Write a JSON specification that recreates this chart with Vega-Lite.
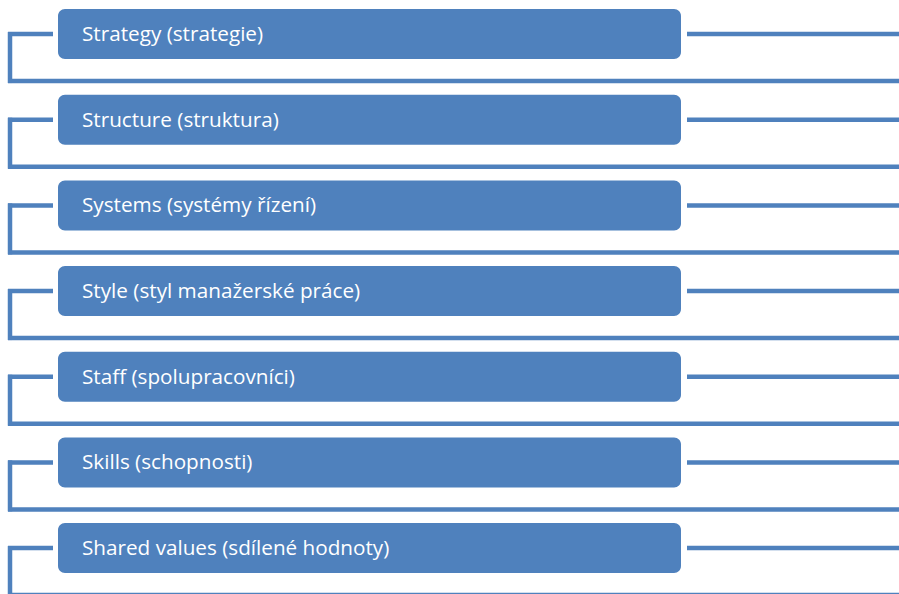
{
  "$schema": "https://vega.github.io/schema/vega-lite/v6.json",
  "width": 899,
  "height": 594,
  "autosize": {"type": "none"},
  "padding": 0,
  "background": "white",
  "config": {"view": {"stroke": null}},
  "data": {
    "values": [
      {"label": "Strategy (strategie)"},
      {"label": "Structure (struktura)"},
      {"label": "Systems (systémy řízení)"},
      {"label": "Style (styl manažerské práce)"},
      {"label": "Staff (spolupracovníci)"},
      {"label": "Skills (schopnosti)"},
      {"label": "Shared values (sdílené hodnoty)"}
    ]
  },
  "encoding": {
    "y": {
      "field": "label",
      "type": "nominal",
      "sort": null,
      "axis": null,
      "scale": {"range": [-8.8, 590.9], "paddingInner": 0, "paddingOuter": 0}
    }
  },
  "layer": [
    {
      "mark": {"type": "rule", "color": "#4F81BD", "strokeWidth": 4.5},
      "encoding": {
        "x": {"datum": 687, "type": "quantitative", "scale": {"domain": [0, 899], "range": [0, 899], "nice": false, "zero": false}, "axis": null},
        "x2": {"datum": 899}
      }
    },
    {
      "mark": {"type": "rule", "color": "#4F81BD", "strokeWidth": 4.5},
      "encoding": {
        "x": {"datum": 8, "type": "quantitative"},
        "x2": {"datum": 53}
      }
    },
    {
      "mark": {"type": "rule", "color": "#4F81BD", "strokeWidth": 4.5, "yOffset": -2, "y2Offset": 49},
      "encoding": {
        "x": {"datum": 10, "type": "quantitative"},
        "y2": {"field": "label"}
      }
    },
    {
      "mark": {"type": "rule", "color": "#4F81BD", "strokeWidth": 4.5, "yOffset": 47},
      "encoding": {
        "x": {"datum": 8, "type": "quantitative"},
        "x2": {"datum": 899}
      }
    },
    {
      "mark": {"type": "bar", "color": "#4F81BD", "height": 50, "cornerRadius": 7},
      "encoding": {
        "x": {"datum": 58, "type": "quantitative"},
        "x2": {"datum": 681}
      }
    },
    {
      "mark": {"type": "text", "color": "white", "align": "left", "baseline": "middle", "font": "Open Sans", "fontSize": 20.7, "dy": 1},
      "encoding": {
        "x": {"datum": 82, "type": "quantitative"},
        "text": {"field": "label"}
      }
    }
  ]
}
